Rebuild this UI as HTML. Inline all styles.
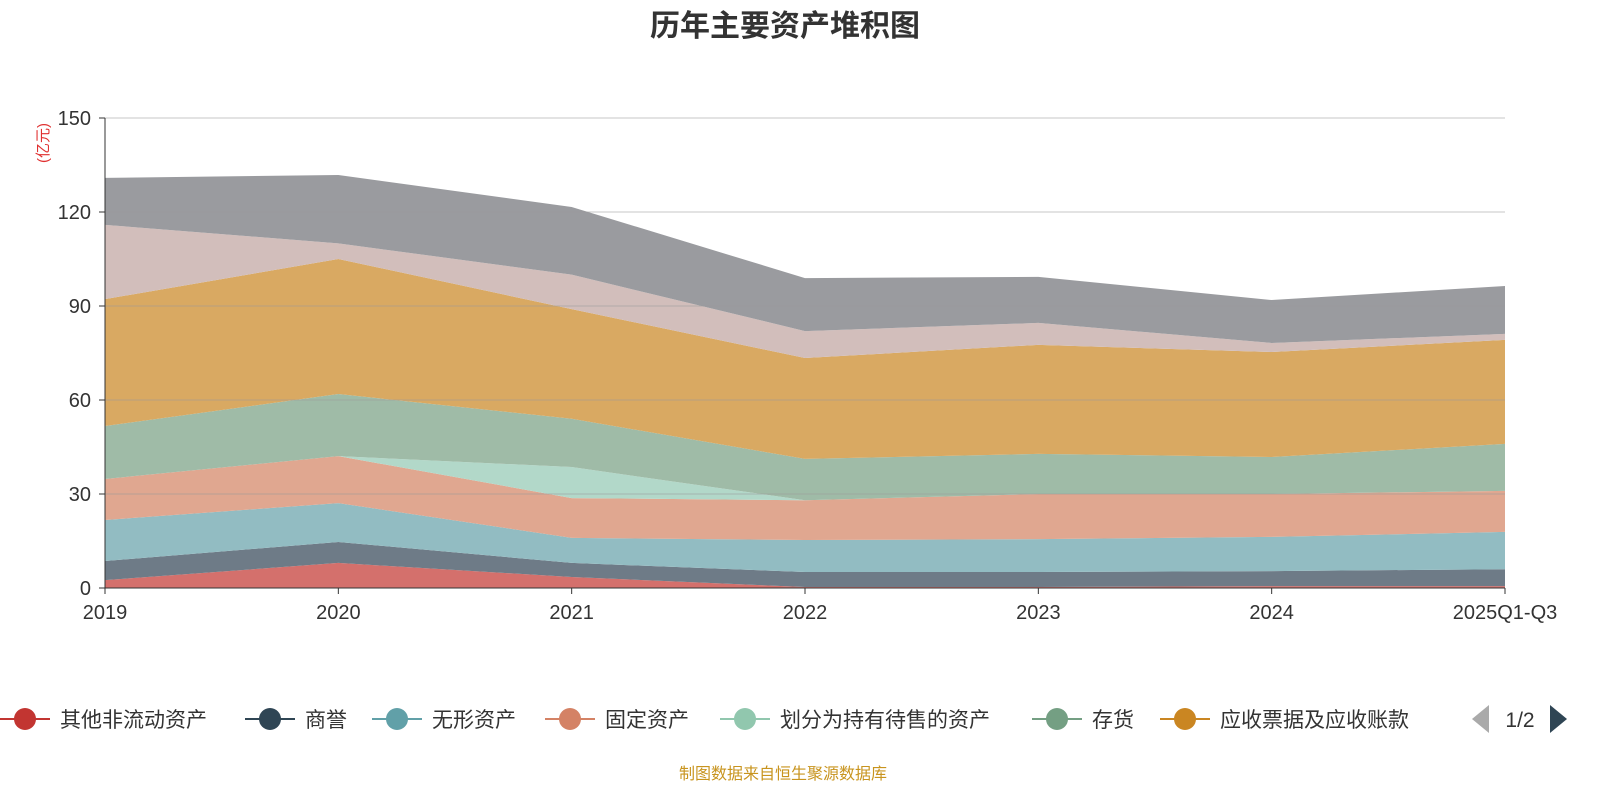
<!DOCTYPE html>
<html><head><meta charset="utf-8">
<style>
body{margin:0;background:#fff;width:1600px;height:800px;overflow:hidden;font-family:"Liberation Sans","Noto Sans CJK SC",sans-serif;}
</style></head>
<body>
<svg id="chart" width="1600" height="800" xmlns="http://www.w3.org/2000/svg" style="font-family:'Liberation Sans','Noto Sans CJK SC',sans-serif">
<text x="785" y="36" text-anchor="middle" font-size="30" font-weight="bold" fill="#333">历年主要资产堆积图</text>
<text transform="translate(48,143) rotate(-90)" text-anchor="middle" font-size="15" fill="#e03030">(亿元)</text>
<g id="areas"></g><g id="grid"></g><g id="axes"></g><g id="legend"></g>
<text x="783" y="779" text-anchor="middle" font-size="16" fill="#c8941e">制图数据来自恒生聚源数据库</text>
</svg>
<script>
const categories=["2019","2020","2021","2022","2023","2024","2025Q1-Q3"];
const seriesNames=["其他非流动资产","商誉","无形资产","固定资产","划分为持有待售的资产","存货","应收票据及应收账款","货币资金","其他资产"];
const otherNonCurrent=[2.5,8,3.5,0.3,0.3,0.6,0.6];
const goodwill=[6.1,6.7,4.5,4.8,4.8,4.8,5.4];
const intangible=[13.1,12.4,8,10.2,10.5,10.9,11.9];
const fixedAssets=[13.1,15,12.7,12.7,14.4,13.7,13.1];
const heldForSale=[0,0,9.9,0,0,0,0];
const inventory=[16.9,19.8,15.4,13.2,12.8,11.8,15];
const receivables=[40.5,43.1,35,32.2,34.8,33.5,33.2];
const cash=[23.7,5,11,8.6,7,2.9,1.9];
const otherAssets=[15,21.8,21.6,16.9,14.7,13.7,15.3];
const yTicks=[0,30,60,90,120,150];
const series=[otherNonCurrent,goodwill,intangible,fixedAssets,heldForSale,inventory,receivables,cash,otherAssets];
const fills=["#d4706c","#6e7b87","#92bcc2","#e0a790","#b2d8c9","#9fbba7","#d9a962","#d2bebb","#9a9b9f"];
const legendColors=["#c23531","#2f4554","#61a0a8","#d48265","#91c7ae","#749f83","#ca8622"];
const NS="http://www.w3.org/2000/svg";
const X0=105,X1=1505,Y0=588,Y1=118,YMAX=150;
const xs=i=>X0+(X1-X0)*i/(categories.length-1);
const ys=v=>Y0-(Y0-Y1)*v/YMAX;
function mk(tag,attrs,parent){const e=document.createElementNS(NS,tag);for(const k in attrs)e.setAttribute(k,attrs[k]);parent.appendChild(e);return e;}
const areas=document.getElementById('areas');
let base=categories.map(()=>0);
series.forEach((s,si)=>{
  const top=base.map((b,i)=>b+s[i]);
  let d="M"+categories.map((c,i)=>xs(i)+","+ys(top[i])).join(" L");
  for(let i=categories.length-1;i>=0;i--)d+=" L"+xs(i)+","+ys(base[i]);
  const p=mk('path',{d:d+"Z",fill:fills[si]},areas);
  
  
  base=top;
});
const grid=document.getElementById('grid'),axes=document.getElementById('axes');
yTicks.forEach(t=>{
  const l=mk('line',{x1:X0,x2:X1,y1:ys(t),y2:ys(t),stroke:t===0?"#333":"#999","stroke-opacity":t===0?1:0.55,"stroke-width":1},grid);
  
  
  mk('line',{x1:X0-6,x2:X0,y1:ys(t),y2:ys(t),stroke:"#333"},axes);
  const tx=mk('text',{x:X0-14,y:ys(t)+7,"text-anchor":"end","font-size":20,fill:"#333"},axes);
  tx.textContent=t;
  
  
});
mk('line',{x1:X0,x2:X0,y1:Y1,y2:Y0,stroke:"#333"},axes);
categories.forEach((c,i)=>{
  mk('line',{x1:xs(i),x2:xs(i),y1:Y0,y2:Y0+6,stroke:"#333"},axes);
  const tx=mk('text',{x:xs(i),y:Y0+31,"text-anchor":"middle","font-size":20,fill:"#333"},axes);
  tx.textContent=c;
  
  
});
const legend=document.getElementById('legend');
const lx=[0,245,372,545,720,1032,1160];
legendColors.forEach((col,i)=>{
  const g=mk('g',{},legend);
  
  
  mk('line',{x1:lx[i],x2:lx[i]+50,y1:719,y2:719,stroke:col,"stroke-width":2},g);
  mk('circle',{cx:lx[i]+25,cy:719,r:11,fill:col},g);
  const t=mk('text',{x:lx[i]+60,y:727,"font-size":21,fill:"#333"},g);
  t.textContent=seriesNames[i];
});
const pg=mk('g',{},legend);


mk('path',{d:"M1472,719 L1489,705 L1489,733Z",fill:"#aaa"},pg);
const pt=mk('text',{x:1520,y:727,"text-anchor":"middle","font-size":21,fill:"#333"},pg);pt.textContent="1/2";
mk('path',{d:"M1550,705 L1567,719 L1550,733Z",fill:"#2f4554"},pg);
</script>
</body></html>
